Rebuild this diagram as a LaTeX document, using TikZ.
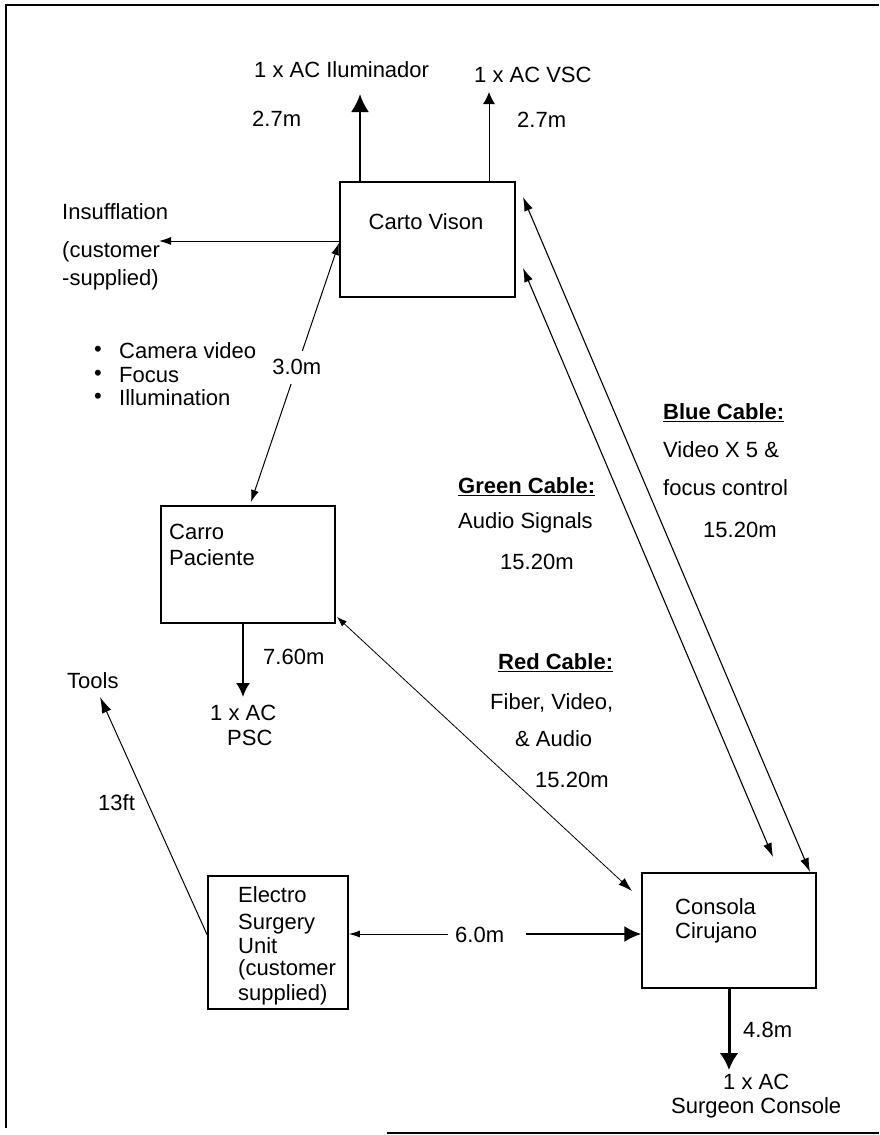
\documentclass[tikz,border=0pt]{standalone}
\usepackage{fontspec}
\setmainfont{Liberation Sans}
\usetikzlibrary{arrows.meta}
\begin{document}
\begin{tikzpicture}[x=1pt,y=-1pt,
  lbl/.style={inner sep=0pt, anchor=west, font=\fontsize{22}{24}\selectfont},
  blbl/.style={lbl, font=\fontsize{22}{24}\selectfont\bfseries},
  box/.style={draw, line width=1.5pt, inner sep=0pt},
  wire/.style={line width=1pt},
  gaplbl/.style={inner sep=0pt, fill=white, font=\fontsize{22}{24}\selectfont}]
\useasboundingbox (0,0) rectangle (879,1135);
% frame
\draw[line width=1.2pt] (879,5) -- (6,5) -- (6,1128);
\draw[line width=1.2pt] (387,1133) -- (879,1133);

% boxes
\node[box, minimum width=175pt, minimum height=115pt] (carto) at (427.5,239.5) {};
\node[box, minimum width=174pt, minimum height=117pt] (carro) at (248,564.5) {};
\node[box, minimum width=140pt, minimum height=133pt] (electro) at (278,942.5) {};
\node[box, minimum width=174pt, minimum height=115pt] (consola) at (729,930.5) {};

% box texts
\node[lbl, anchor=center] (tcarto) at (426,222) {Carto Vison};
\node[lbl] (tcarro1) at (169,532) {Carro};
\node[lbl] (tcarro2) at (169,558) {Paciente};
\node[lbl] (tel1) at (238,895) {Electro};
\node[lbl] (tel2) at (238,924) {Surgery};
\node[lbl] (tel3) at (238,946) {Unit};
\node[lbl] (tel4) at (238,970) {(customer};
\node[lbl] (tel5) at (238,995) {supplied)};
\node[lbl] (tcon1) at (675,907) {Consola};
\node[lbl] (tcon2) at (675,933) {Cirujano};

% coordinates
\coordinate (ilum) at (360,94);
\coordinate (vsc) at (489,92);
\coordinate (ins) at (159,241);
\coordinate (cc1) at (339,243);
\coordinate (cc2) at (251,502);
\coordinate (psc) at (243,697);
\coordinate (tl) at (0,935);
\coordinate (tools) at (100,697);
\coordinate (e6) at (0,934);
\coordinate (sc) at (729,1070);
\coordinate (rc1) at (337,617);
\coordinate (rc2) at (632,891);
\coordinate (gc1) at (523,268);
\coordinate (gc2) at (773,857);
\coordinate (bc1) at (523,197);
\coordinate (bc2) at (810,872);

% top arrows
\draw[line width=2.5pt, -{Latex[length=18pt,width=18pt]}] (carto.north -| ilum) -- (ilum);
\draw[wire, -{Latex[length=12pt,width=12pt]}] (carto.north -| vsc) -- (vsc);
\node[lbl] (lilum) at (254,70) {1 x AC Iluminador};
\node[lbl] (lvsc) at (474,75) {1 x AC VSC};
\node[lbl] (l27a) at (252,119) {2.7m};
\node[lbl] (l27b) at (517,120) {2.7m};

% insufflation
\draw[wire, -{Latex[length=12pt,width=8pt]}] (carto.west |- ins) -- (ins);
\node[lbl] (ins1) at (62,212) {Insufflation};
\node[lbl] (ins2) at (62,252) {(customer};
\node[lbl] (ins3) at (62,280) {-supplied)};

% carto - carro
\draw[wire, {Latex[length=12pt,width=8pt]}-{Latex[length=12pt,width=8pt]}] (cc1) -- node[gaplbl, inner ysep=9pt, pos=0.48] (l30) {3.0m} (cc2);
\node[lbl] (b1) at (94,351) {\textbullet};
\node[lbl] (b2) at (94,375) {\textbullet};
\node[lbl] (b3) at (94,398) {\textbullet};
\node[lbl] (bt1) at (119,351) {Camera video};
\node[lbl] (bt2) at (119,375) {Focus};
\node[lbl] (bt3) at (119,398) {Illumination};

% carro down
\draw[line width=2pt, -{Latex[length=14pt,width=14pt]}] (carro.south -| psc) -- (psc);
\node[lbl] (l760) at (263,657) {7.60m};
\node[lbl] (lpsc1) at (210,713) {1 x AC};
\node[lbl] (lpsc2) at (227,738) {PSC};

% tools
\draw[wire, -{Latex[length=16pt,width=10pt]}] (electro.west |- tl) -- (tools);
\node[lbl] (ltools) at (67,681) {Tools};
\node[lbl] (l13) at (98,803) {13ft};

% 6.0m
\node[gaplbl, anchor=west] (l60) at (455,935) {6.0m};
\draw[wire, {Latex[length=11pt,width=7pt]}-] (electro.east |- e6) -- ([xshift=-7pt]l60.west |- e6);
\draw[line width=2pt, -{Latex[length=17pt,width=16pt]}] ([xshift=22pt]l60.east |- e6) -- (consola.west |- e6);

% consola down
\draw[line width=3pt, -{Latex[length=17pt,width=19pt]}] (consola.south -| sc) -- (sc);
\node[lbl] (l48) at (743,1030) {4.8m};
\node[lbl] (lsc1) at (723,1082) {1 x AC};
\node[lbl] (lsc2) at (671,1108) {Surgeon Console};

% red cable
\draw[line width=0.8pt, {Latex[length=10pt,width=7pt]}-{Latex[length=14pt,width=9pt]}] (rc1) -- (rc2);
\node[blbl] (red1) at (498,663) {\underline{Red Cable:}};
\node[lbl] (red2) at (490,703) {Fiber, Video,};
\node[lbl] (red3) at (515,739) {\& Audio};
\node[lbl] (red4) at (535,780) {15.20m};

% green cable
\draw[line width=1.1pt, {Latex[length=14pt,width=9pt]}-{Latex[length=14pt,width=9pt]}] (gc1) -- (gc2);
\node[blbl] (gr1) at (458,487) {\underline{Green Cable:}};
\node[lbl] (gr2) at (458,523) {Audio Signals};
\node[lbl] (gr3) at (500,562) {15.20m};

% blue cable
\draw[line width=1.1pt, {Latex[length=14pt,width=9pt]}-{Latex[length=14pt,width=9pt]}] (bc1) -- (bc2);
\node[blbl] (bl1) at (663,413) {\underline{Blue Cable:}};
\node[lbl] (bl2) at (663,450) {Video X 5 \&};
\node[lbl] (bl3) at (663,488) {focus control};
\node[lbl] (bl4) at (703,530) {15.20m};
\end{tikzpicture}
\end{document}
